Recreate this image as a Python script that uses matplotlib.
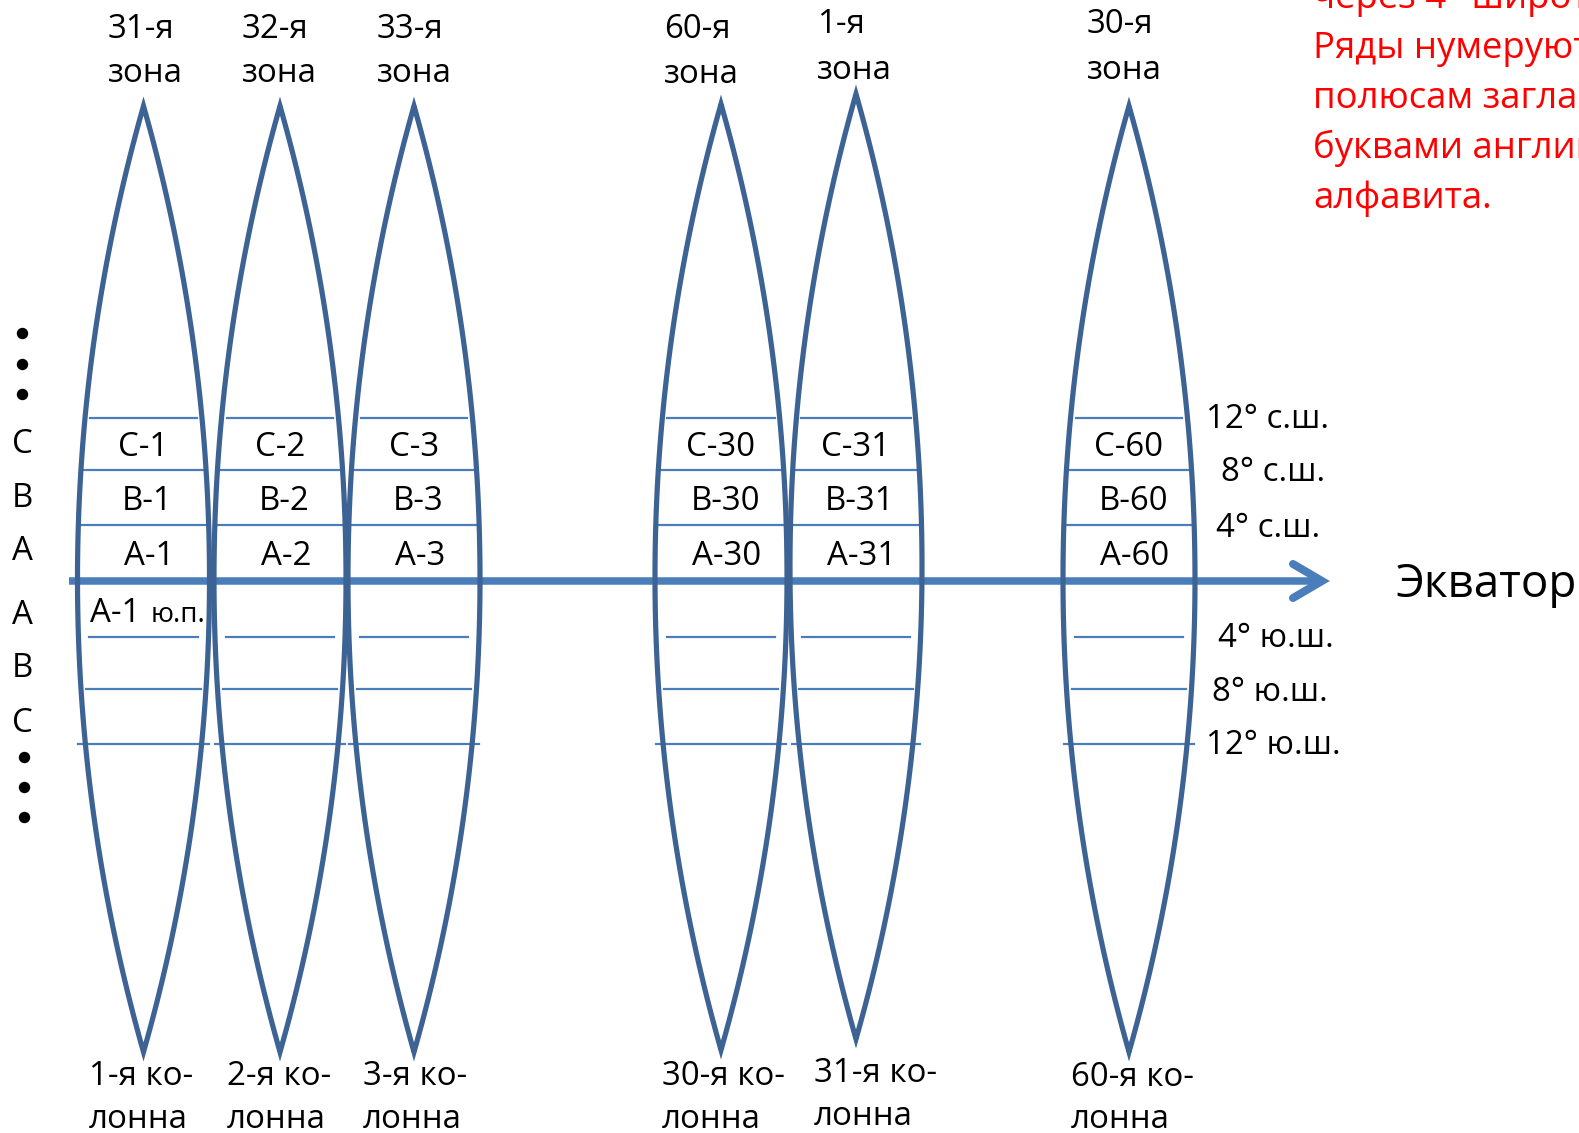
import numpy as np
import matplotlib
matplotlib.use("Agg")
import matplotlib.pyplot as plt
from matplotlib.patches import Polygon

plt.rcParams['font.family'] = ['Open Sans', 'DejaVu Sans']

# ---- data ----
zone_names = ["31-я\nзона", "32-я\nзона", "33-я\nзона", "60-я\nзона", "1-я\nзона", "30-я\nзона"]
column_names = ["1-я ко-\nлонна", "2-я ко-\nлонна", "3-я ко-\nлонна",
                "30-я ко-\nлонна", "31-я ко-\nлонна", "60-я ко-\nлонна"]
column_numbers = ["1", "2", "3", "30", "31", "60"]
row_letters = ["C", "B", "A"]
north_labels = ["12° с.ш.", "8° с.ш.", "4° с.ш."]
south_labels = ["4° ю.ш.", "8° ю.ш.", "12° ю.ш."]
side_letters_north = ["C", "B", "A"]
side_letters_south = ["A", "B", "C"]
equator_label = "Экватор"
extra_cell = ("А-1", "ю.п.")
note_lines = ["через 4° широты.", "Ряды нумеруют от экватора к",
              "полюсам заглавными", "буквами английского",
              "алфавита."]

# ---- layout (pixel space) ----
W, H = 1579, 1133
zone_cx = [143.5, 280, 414, 721, 856, 1129]
zone_top = [106, 106, 106, 104, 94, 106]
zone_bot = [1052, 1052, 1052, 1050, 1039, 1052]
half_w = 66
eq_y = 581
lat_y = [418, 470, 525, 637, 689, 744]
lat_inset = [5, 3, 0, 11, 5, -7]

dark = '#3c6393'
light = '#4a7ebb'
px = 0.72  # points per pixel

fig = plt.figure(figsize=(W / 100, H / 100), dpi=100)
ax = fig.add_axes([0, 0, 1, 1])
ax.set_xlim(0, W)
ax.set_ylim(H, 0)
ax.axis('off')


def offset(y, top, bot):
    mid = (top + bot) / 2
    hh = (bot - top) / 2
    R = (hh ** 2 + half_w ** 2) / (2 * half_w)
    return np.sqrt(np.clip(R ** 2 - (y - mid) ** 2, 0, None)) - (R - half_w)


# latitude lines
for cx, t, b in zip(zone_cx, zone_top, zone_bot):
    for y, ins in zip(lat_y, lat_inset):
        o = offset(y, t, b) - ins
        ax.plot([cx - o, cx + o], [y, y], color=light, lw=2.2 * px, zorder=2)

# equator arrow
ax.plot([69, 1322], [eq_y, eq_y], color=light, lw=7.5 * px, zorder=3,
        solid_capstyle='butt')
ax.plot([1293, 1322, 1293], [564, eq_y, 598], color=light, lw=8 * px,
        solid_capstyle='round', solid_joinstyle='miter', zorder=3)

# lenses
for cx, t, b in zip(zone_cx, zone_top, zone_bot):
    ys = np.linspace(t, b, 300)
    o = offset(ys, t, b)
    pts = np.concatenate([np.column_stack([cx - o, ys]),
                          np.column_stack([cx + o, ys])[::-1]])
    ax.add_patch(Polygon(pts, closed=True, fill=False, edgecolor=dark,
                         lw=5.2 * px, joinstyle='miter', zorder=4))

fs = 23.8

# zone names (top)
zone_left = [108, 242, 377, 664, 817, 1087]
zone_base = [(38, 82), (38, 82), (38, 82), (38, 83), (33, 79), (33, 79)]
for name, xl, (b1, b2) in zip(zone_names, zone_left, zone_base):
    l1, l2 = name.split("\n")
    ax.text(xl, b1, l1, fontsize=fs, ha='left', va='baseline')
    ax.text(xl, b2, l2, fontsize=fs, ha='left', va='baseline')

# column names (bottom)
col_left = [89, 227, 363, 662, 814, 1071]
col_base = [(1085, 1128), (1085, 1128), (1085, 1128), (1085, 1128),
            (1082, 1125), (1086, 1128)]
for name, xl, (b1, b2) in zip(column_names, col_left, col_base):
    l1, l2 = name.split("\n")
    ax.text(xl, b1, l1, fontsize=fs, ha='left', va='baseline')
    ax.text(xl, b2, l2, fontsize=fs, ha='left', va='baseline')

# cell labels
row_dx = [0, 4, 6]
for cx, num in zip(zone_cx, column_numbers):
    for i, letter in enumerate(row_letters):
        yc = (lat_y[i] + lat_y[i + 1]) / 2 if i < 2 else (lat_y[2] + eq_y) / 2
        ax.text(cx + row_dx[i], yc + 12, f"{letter}-{num}", fontsize=fs,
                ha='center', va='baseline', zorder=5)

# A-1 south cell
ax.text(90, 622, extra_cell[0], fontsize=fs, ha='left', va='baseline', zorder=5)
ax.text(151, 622, extra_cell[1], fontsize=fs * 0.84, ha='left', va='baseline', zorder=5)

# side letters and dots
side_y_n = [453, 507, 560]
side_y_s = [624, 677, 732]
for s, y in zip(side_letters_north, side_y_n):
    ax.text(22, y, s, fontsize=fs, ha='center', va='baseline')
for s, y in zip(side_letters_south, side_y_s):
    ax.text(22, y, s, fontsize=fs, ha='center', va='baseline')
ax.plot([22, 22, 22], [333, 364, 394], 'o', color='black', ms=10 * px, zorder=5)
ax.plot([24, 24, 24], [757, 787, 817], 'o', color='black', ms=10 * px, zorder=5)

# latitude labels
lat_label_left = [1206, 1221, 1216, 1218, 1212, 1206]
lat_label_base = [428, 481, 537, 647, 701, 754]
for s, xl, b in zip(north_labels + south_labels, lat_label_left, lat_label_base):
    ax.text(xl, b, s, fontsize=fs, ha='left', va='baseline')

# equator label
ax.text(1396, 597, equator_label, fontsize=33, ha='left', va='baseline')

# red note (clipped at right, as in the original)
note_base = [8, 58, 108, 158, 208]
for s, b in zip(note_lines, note_base):
    ax.text(1313, b, s, fontsize=26.3, color='#ff0000', ha='left', va='baseline',
            clip_on=True)

fig.savefig("out.png", dpi=100)
